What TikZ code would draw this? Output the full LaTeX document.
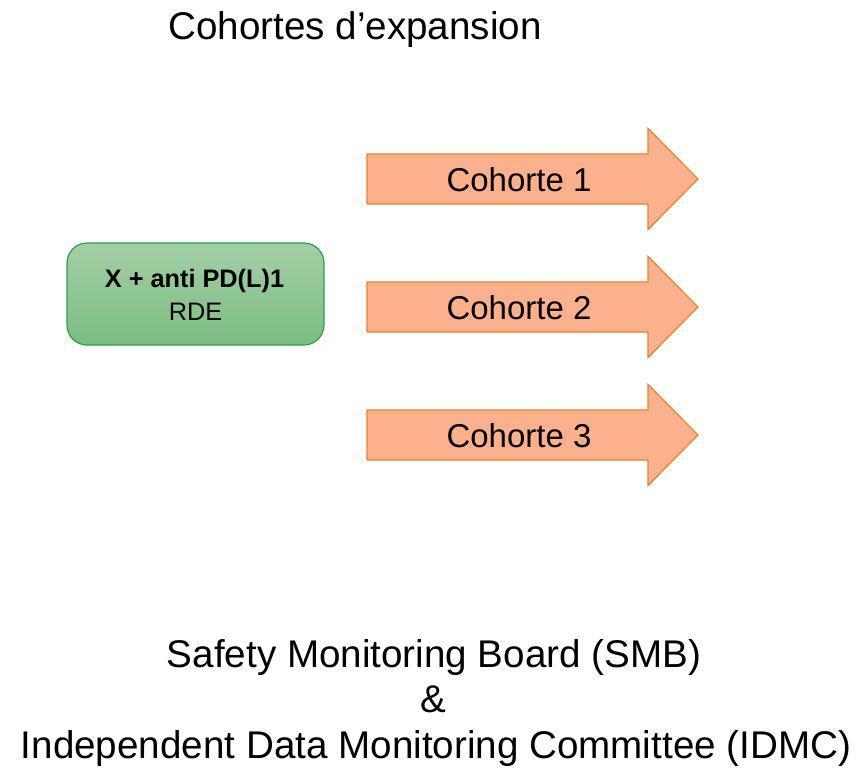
\documentclass[tikz,border=0pt]{standalone}
\usepackage{fontspec}
\setmainfont{Liberation Sans}
\definecolor{arrowfill}{RGB}{252,176,140}
\definecolor{arrowline}{RGB}{240,128,36}
\definecolor{greentop}{RGB}{163,207,165}
\definecolor{greenbot}{RGB}{124,189,131}
\definecolor{greenline}{RGB}{46,160,75}
\tikzset{
  big/.style={font=\fontsize{38.6}{46}\selectfont, inner sep=0pt, anchor=base},
  arrowtext/.style={font=\fontsize{33}{40}\selectfont, inner sep=0pt, anchor=base},
  cohortarrow/.style={fill=arrowfill, draw=arrowline, line width=1.2pt, line join=miter},
  greenbox/.style={draw=greenline, line width=1.2pt, rounded corners=20pt,
    top color=greentop, bottom color=greenbot,
    minimum width=257pt, minimum height=102pt, inner sep=0pt}
}
\begin{document}
\begin{tikzpicture}[x=1pt,y=-1pt]
\useasboundingbox (0,0) rectangle (867,769);
\node[big] (title) at (355,39) {Cohortes d’expansion};
% green box
\node[greenbox] (rde) at (195.5,294) {};
\node[font=\bfseries\fontsize{25.3}{30}\selectfont, inner sep=0pt, anchor=base] (rde1) at (194.5,287) {X + anti PD(L)1};
\node[font=\fontsize{25.3}{30}\selectfont, inner sep=0pt, anchor=base] (rde2) at (195.5,320) {RDE};
% arrows
\foreach \i/\y in {1/179,2/307,3/435}{
  \draw[cohortarrow] (367,\y-25) -- (648,\y-25) -- (648,\y-50.5) -- (698,\y) -- (648,\y+50.5) -- (648,\y+25) -- (367,\y+25) -- cycle;
  \node[arrowtext] (c\i) at (519,\y+12) {Cohorte \i};
}
\node[big] (smb) at (434,667) {Safety Monitoring Board (SMB)};
\node[big] (amp) at (433,712) {\&};
\node[big] (idmc) at (436,758) {Independent Data Monitoring Committee (IDMC)};
\end{tikzpicture}
\end{document}
